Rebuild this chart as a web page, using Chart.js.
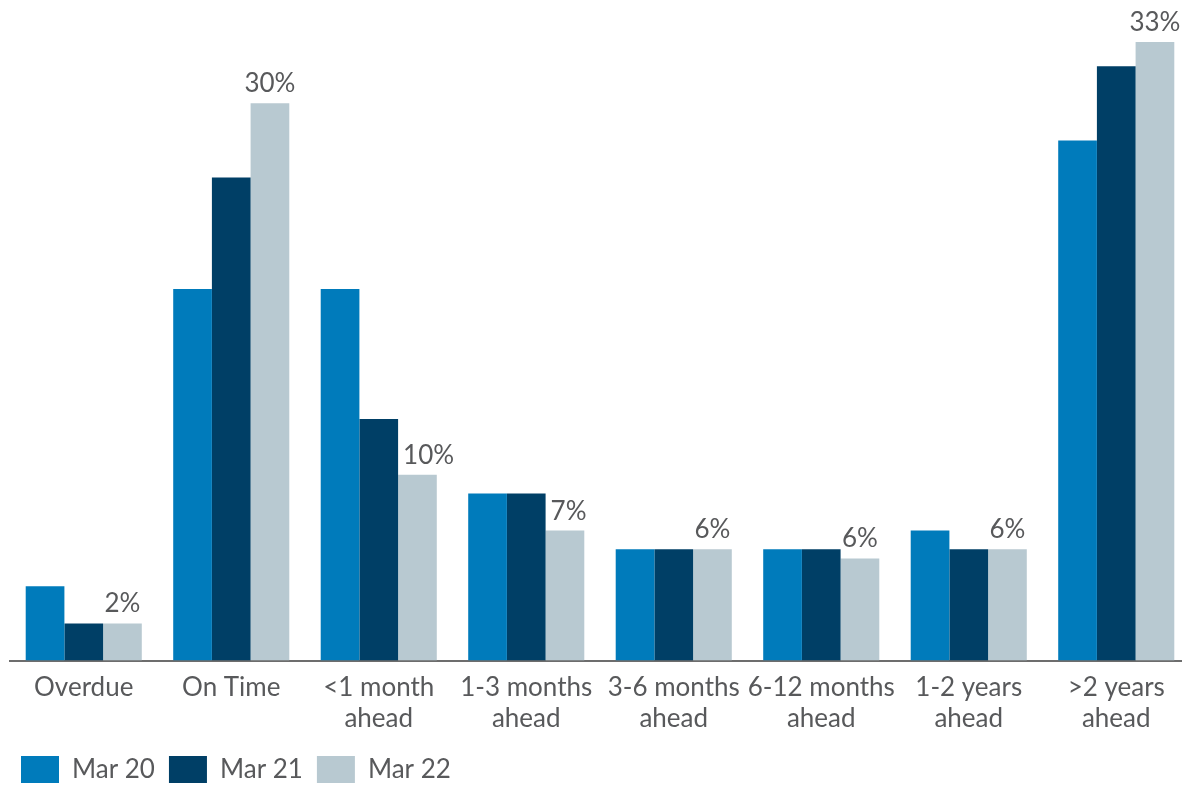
<!DOCTYPE html>
<html>
<head>
<meta charset="utf-8">
<script src="https://cdn.jsdelivr.net/npm/chart.js@4.4.1/dist/chart.umd.min.js"></script>
<style>
  html, body { margin: 0; padding: 0; background: #ffffff; overflow: hidden; }
  #wrap { width: 1190px; height: 787px; position: relative; }
</style>
</head>
<body>
<div id="wrap"><canvas id="c"></canvas></div>
<script>
const categories = [
  'Overdue',
  'On Time',
  ['<1 month', 'ahead'],
  ['1-3 months', 'ahead'],
  ['3-6 months', 'ahead'],
  ['6-12 months', 'ahead'],
  ['1-2 years', 'ahead'],
  ['>2 years', 'ahead']
];
const seriesNames = ['Mar 20', 'Mar 21', 'Mar 22'];
const mar20 = [4, 20, 20, 9, 6, 6, 7, 28];
const mar21 = [2, 26, 13, 9, 6, 6, 6, 32];
const mar22 = [2, 30, 10, 7, 6, 5.5, 6, 33.3];
const mar22Labels = ['2%', '30%', '10%', '7%', '6%', '6%', '6%', '33%'];

const colors = ['#007bbb', '#003f66', '#b8c9d1'];
const textColor = '#58595b';
const fontFamily = 'Lato, "Open Sans", sans-serif';

const valueLabelPlugin = {
  id: 'valueLabels',
  afterDatasetsDraw(chart) {
    const ctx = chart.ctx;
    const meta = chart.getDatasetMeta(2);
    const prevMeta = chart.getDatasetMeta(1);
    ctx.save();
    ctx.font = '26px ' + fontFamily;
    ctx.fillStyle = textColor;
    ctx.textAlign = 'left';
    ctx.textBaseline = 'alphabetic';
    meta.data.forEach((el, i) => {
      const txt = mar22Labels[i];
      const w = ctx.measureText(txt).width;
      const baseY = el.y - 11;
      let left = el.x - w / 2;
      const prev = prevMeta.data[i];
      const barLeft = el.x - el.width / 2;
      if (prev && prev.y < baseY && left < barLeft + 5) {
        left = barLeft + 5;
      }
      ctx.fillText(txt, left, baseY);
    });
    ctx.restore();
  }
};

new Chart(document.getElementById('c'), {
  type: 'bar',
  data: {
    labels: categories,
    datasets: [
      { label: seriesNames[0], data: mar20, backgroundColor: colors[0] },
      { label: seriesNames[1], data: mar21, backgroundColor: colors[1] },
      { label: seriesNames[2], data: mar22, backgroundColor: colors[2] }
    ]
  },
  options: {
    responsive: true,
    maintainAspectRatio: false,
    animation: false,
    layout: { padding: { top: 29, left: 7, right: 0, bottom: -6 } },
    datasets: {
      bar: { categoryPercentage: 0.787, barPercentage: 1.0, borderWidth: 0 }
    },
    plugins: {
      tooltip: { enabled: false },
      legend: {
        position: 'bottom',
        align: 'start',
        labels: {
          boxWidth: 38,
          boxHeight: 27,
          padding: 14,
          color: textColor,
          font: { family: fontFamily, size: 26 }
        }
      }
    },
    scales: {
      x: {
        grid: { display: false },
        border: { display: true, color: '#6d6d6d', width: 2 },
        ticks: {
          color: textColor,
          font: { family: fontFamily, size: 26, lineHeight: 1.2 },
          padding: 3,
          maxRotation: 0,
          autoSkip: false
        },
        afterFit(scale) { scale.height += 5; }
      },
      y: {
        display: true,
        min: 0,
        max: 34,
        grid: { display: false },
        border: { display: false },
        ticks: { display: false },
        afterFit(scale) { scale.width = 3; }
      }
    }
  },
  plugins: [valueLabelPlugin]
});
</script>
</body>
</html>
